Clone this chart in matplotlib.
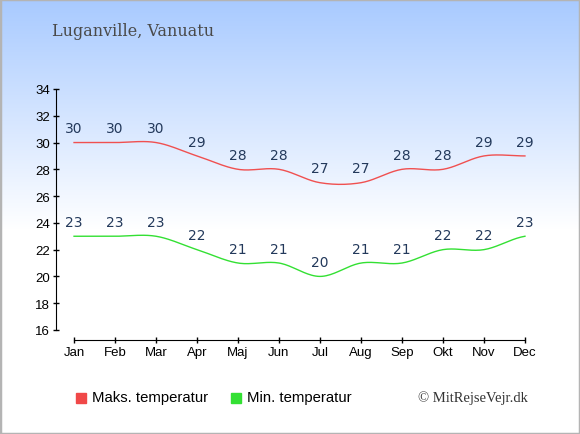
import numpy as np
import matplotlib.pyplot as plt
from matplotlib.patches import Rectangle

months = ['Jan', 'Feb', 'Mar', 'Apr', 'Maj', 'Jun', 'Jul', 'Aug', 'Sep', 'Okt', 'Nov', 'Dec']
max_temp = [30, 30, 30, 29, 28, 28, 27, 27, 28, 28, 29, 29]
min_temp = [23, 23, 23, 22, 21, 21, 20, 21, 21, 22, 22, 23]
yticks = [16, 18, 20, 22, 24, 26, 28, 30, 32, 34]


def smooth(y, n=20):
    # catmull-rom through the points
    y = np.asarray(y, dtype=float)
    p = np.concatenate([[y[0]], y, [y[-1]]])
    xs, ys = [], []
    for i in range(len(y) - 1):
        p0, p1, p2, p3 = p[i], p[i + 1], p[i + 2], p[i + 3]
        t = np.linspace(0, 1, n, endpoint=False)
        yy = 0.5 * ((2 * p1) + (-p0 + p2) * t + (2 * p0 - 5 * p1 + 4 * p2 - p3) * t ** 2
                    + (-p0 + 3 * p1 - 3 * p2 + p3) * t ** 3)
        xs.append(i + t)
        ys.append(yy)
    xs.append([len(y) - 1])
    ys.append([y[-1]])
    return np.concatenate(xs), np.concatenate(ys)


fig = plt.figure(figsize=(5.8, 4.35), dpi=100)

# background gradient
bg = fig.add_axes([0, 0, 1, 1])
h = 435
grad = np.ones((h, 1, 3))
top = np.array([168, 202, 255]) / 255.0
for i in range(h):
    f = max(0.0, 1 - i / 230.0)
    grad[i, 0] = 1 - (1 - top) * f
bg.imshow(grad, aspect='auto', extent=[0, 1, 0, 1], origin='upper')
bg.add_patch(Rectangle((0, 0), 1, 1, fill=False, edgecolor='#b4b4b4', linewidth=2.5, transform=bg.transAxes))
bg.axis('off')

fig.text(52 / 580, 1 - 32 / 435, 'Luganville, Vanuatu', fontsize=11.5, family='DejaVu Serif',
         color='#4a4a4a', va='center', ha='left')

ax = fig.add_axes([56 / 580, 1 - 341 / 435, (527 - 56) / 580, (341 - 90) / 435])
ax.patch.set_alpha(0)
x = np.arange(len(months))
sx, sy = smooth(max_temp)
ax.plot(sx, sy, color='#f05050', linewidth=1)
sx, sy = smooth(min_temp)
ax.plot(sx, sy, color='#33e033', linewidth=1)

for i in x:
    ax.text(i, max_temp[i] + 0.55, str(max_temp[i]), ha='center', va='bottom', fontsize=10, color='#23395b')
    ax.text(i, min_temp[i] + 0.55, str(min_temp[i]), ha='center', va='bottom', fontsize=10, color='#23395b')

ax.set_xlim(-0.44, 11.05)
ax.set_ylim(15.25, 34)
ax.set_xticks(x)
ax.set_xticklabels(months, fontsize=9.5, family='Liberation Sans')
ax.set_yticks(yticks)
ax.set_yticklabels([str(v) for v in yticks], fontsize=9.5, family='Liberation Sans')
ax.spines['top'].set_visible(False)
ax.spines['right'].set_visible(False)
ax.spines['left'].set_bounds(16, 34)
ax.spines['bottom'].set_bounds(0, 11)
ax.tick_params(direction='inout', length=5, width=1, pad=2)

# legend
fig.patches.append(Rectangle((76 / 580, 1 - 404 / 435), 10 / 580, 10 / 435, color='#f04848',
                             transform=fig.transFigure, figure=fig))
fig.text(92 / 580, 1 - 398 / 435, 'Maks. temperatur', fontsize=10.7, family='Liberation Sans', va='center')
fig.patches.append(Rectangle((231 / 580, 1 - 404 / 435), 10 / 580, 10 / 435, color='#33e033',
                             transform=fig.transFigure, figure=fig))
fig.text(247 / 580, 1 - 398 / 435, 'Min. temperatur', fontsize=10.7, family='Liberation Sans', va='center')
fig.text(418 / 580, 1 - 398 / 435, '© MitRejseVejr.dk', fontsize=10.5, family='Liberation Serif',
         color='#333333', va='center')

fig.savefig('out.png', dpi=100)
